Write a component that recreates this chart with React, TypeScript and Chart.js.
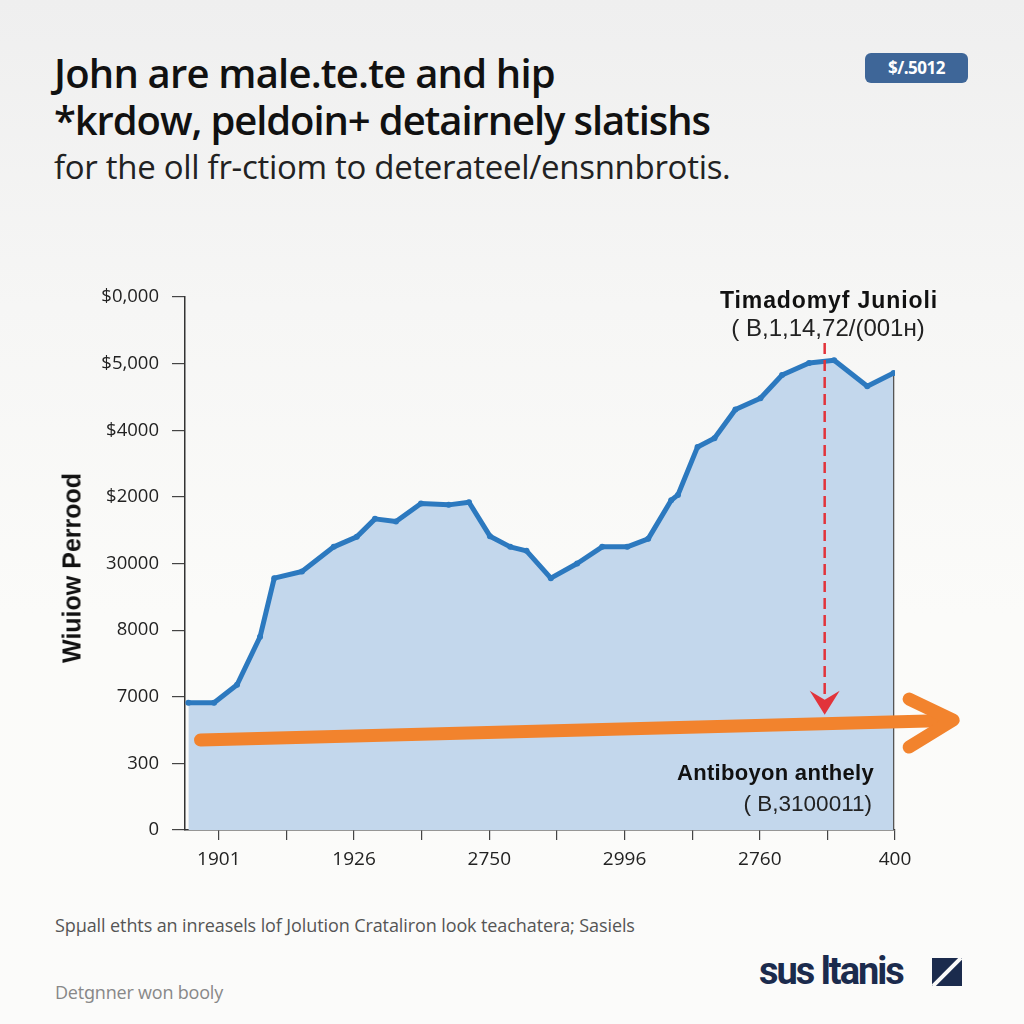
import React, { useEffect, useRef } from "react";
import { Chart, registerables } from "chart.js";

Chart.register(...registerables);

// ---- data ----
const periodX = [
  -0.45, -0.07, 0.27, 0.61, 0.82, 1.23, 1.7, 2.04, 2.31, 2.62, 2.99, 3.4, 3.7, 4.01, 4.31, 4.55,
  4.91, 5.3, 5.67, 6.04, 6.35, 6.69, 6.79, 7.08, 7.33, 7.64, 8.01, 8.33, 8.73, 9.1, 9.59, 9.98,
];
const periodY = [
  1.91, 1.91, 2.18, 2.9, 3.78, 3.88, 4.25, 4.4, 4.67, 4.63, 4.9, 4.88, 4.92, 4.41, 4.25, 4.19,
  3.78, 4.0, 4.25, 4.25, 4.37, 4.95, 5.03, 5.75, 5.88, 6.31, 6.48, 6.83, 7.01, 7.05, 6.66, 6.86,
];
const xTickValues = [0, 1, 2, 3, 4, 5, 6, 7, 8, 9, 10];
const xTickLabels = ["1901", "", "1926", "", "2750", "", "2996", "", "2760", "", "400"];
const yTickValues = [0, 1, 2, 3, 4, 5, 6, 7, 8];
const yTickLabels = ["0", "300", "7000", "8000", "30000", "$2000", "$4000", "$5,000", "$0,000"];

// annotation arrows (data units)
const redArrowX = [8.96, 8.96];
const redArrowY = [7.31, 1.73];
const orangeArrowX = [-0.27, 10.86];
const orangeArrowY = [1.35, 1.65];

const FONT = "'Open Sans', 'Noto Sans', sans-serif";
const ANN_FONT = "'Liberation Sans', Arial, sans-serif";

const overlayPlugin = {
  id: "overlayArrows",
  afterDatasetsDraw(chart: any) {
    const { ctx, chartArea } = chart;
    const xs = chart.scales.x;
    const ys = chart.scales.y;
    ctx.save();

    // right edge line under last point
    const lx = xs.getPixelForValue(periodX[periodX.length - 1]);
    const ly = ys.getPixelForValue(periodY[periodY.length - 1]);
    ctx.strokeStyle = "#555";
    ctx.lineWidth = 1.3;
    ctx.beginPath();
    ctx.moveTo(lx, ly + 3);
    ctx.lineTo(lx, chartArea.bottom);
    ctx.stroke();

    // red dashed arrow
    const rx = xs.getPixelForValue(redArrowX[0]);
    const ry1 = ys.getPixelForValue(redArrowY[0]);
    const rx2 = xs.getPixelForValue(redArrowX[1]);
    const ry2 = ys.getPixelForValue(redArrowY[1]);
    ctx.strokeStyle = "#E2333A";
    ctx.lineWidth = 2.5;
    ctx.setLineDash([11, 6]);
    ctx.beginPath();
    ctx.moveTo(rx, ry1);
    ctx.lineTo(rx2, ry2 - 14);
    ctx.stroke();
    ctx.setLineDash([]);
    ctx.fillStyle = "#E2333A";
    ctx.beginPath();
    ctx.moveTo(rx2, ry2);
    ctx.lineTo(rx2 - 15, ry2 - 24);
    ctx.lineTo(rx2, ry2 - 15);
    ctx.lineTo(rx2 + 15, ry2 - 24);
    ctx.closePath();
    ctx.fill();

    // orange arrow
    const ox1 = xs.getPixelForValue(orangeArrowX[0]);
    const oy1 = ys.getPixelForValue(orangeArrowY[0]);
    const ox2 = xs.getPixelForValue(orangeArrowX[1]);
    const oy2 = ys.getPixelForValue(orangeArrowY[1]);
    ctx.strokeStyle = "#F2832D";
    ctx.lineWidth = 13;
    ctx.lineCap = "round";
    ctx.lineJoin = "round";
    ctx.beginPath();
    ctx.moveTo(ox1, oy1);
    ctx.lineTo(ox2 - 6, oy2 + 0.5);
    ctx.stroke();
    ctx.beginPath();
    ctx.moveTo(ox2 - 44, oy2 - 21);
    ctx.lineTo(ox2, oy2);
    ctx.lineTo(ox2 - 44, oy2 + 27);
    ctx.stroke();

    ctx.restore();
  },
};

function ChartCanvas() {
  const ref = useRef<HTMLCanvasElement | null>(null);
  useEffect(() => {
    if (!ref.current) return;
    const points = periodX.map((x, i) => ({ x, y: periodY[i] }));
    const chart = new Chart(ref.current, {
      type: "line",
      data: {
        datasets: [
          {
            data: points,
            borderColor: "#2C79BF",
            borderWidth: 5,
            borderJoinStyle: "round",
            pointRadius: 3,
            pointBackgroundColor: "#2C79BF",
            pointBorderWidth: 0,
            fill: "origin",
            backgroundColor: "#C3D7EC",
            tension: 0,
          },
        ],
      },
      options: {
        animation: false,
        responsive: false,
        devicePixelRatio: 1,
        layout: { padding: { left: 0, right: 129, top: 47, bottom: 0 } },
        plugins: { legend: { display: false }, tooltip: { enabled: false }, title: { display: false } },
        scales: {
          x: {
            type: "linear",
            min: -0.5,
            max: 10,
            afterBuildTicks: (s: any) => {
              s.ticks = xTickValues.map((v) => ({ value: v }));
            },
            afterFit: (s: any) => {
              s.height = 70;
            },
            ticks: {
              autoSkip: false,
              maxRotation: 0,
              padding: 8,
              color: "#222",
              font: { family: FONT, size: 19 },
              callback: (v: any) => xTickLabels[xTickValues.indexOf(Number(v))] ?? "",
            },
            grid: { drawOnChartArea: false, drawTicks: true, tickLength: 10, color: "#444", lineWidth: 1.2 },
            border: { display: true, color: "#333", width: 1.5 },
          },
          y: {
            type: "linear",
            min: 0,
            max: 8,
            afterBuildTicks: (s: any) => {
              s.ticks = yTickValues.map((v) => ({ value: v }));
            },
            afterFit: (s: any) => {
              s.width = 185;
            },
            ticks: {
              autoSkip: false,
              padding: 13,
              color: "#222",
              font: { family: FONT, size: 18.5 },
              callback: (v: any) => yTickLabels[yTickValues.indexOf(Number(v))] ?? "",
            },
            grid: { drawOnChartArea: false, drawTicks: true, tickLength: 13, color: "#444", lineWidth: 1.2 },
            border: { display: true, color: "#333", width: 1.5 },
          },
        },
      },
      plugins: [overlayPlugin],
    } as any);
    return () => chart.destroy();
  }, []);
  return (
    <canvas
      ref={ref}
      width={1024}
      height={650}
      style={{ position: "absolute", left: 0, top: 250, width: 1024, height: 650 }}
    />
  );
}

export default function App() {
  const abs = (o: React.CSSProperties): React.CSSProperties => ({ position: "absolute", whiteSpace: "nowrap", ...o });
  return (
    <div
      style={{
        position: "fixed",
        left: 0,
        top: 0,
        width: 1024,
        height: 1024,
        overflow: "hidden",
        background: "linear-gradient(180deg, #efefef 0%, #f6f6f5 30%, #fbfbf9 60%, #fbfbfa 100%)",
        fontFamily: FONT,
      }}
    >
      <div style={abs({ left: 54, top: 73, transform: "translateY(-50%)", fontSize: 40, fontWeight: 600, lineHeight: "48px", color: "#111", letterSpacing: -0.8 })}>
        John are male.te.te and hip
      </div>
      <div style={abs({ left: 54, top: 120, transform: "translateY(-50%)", fontSize: 40, fontWeight: 600, lineHeight: "48px", color: "#111", letterSpacing: -1.1 })}>
        *krdow, peldoin+ detairnely slatishs
      </div>
      <div style={abs({ left: 54, top: 167, transform: "translateY(-50%)", fontSize: 33, fontWeight: 400, lineHeight: "40px", color: "#222", letterSpacing: -0.3 })}>
        for the oll fr-ctiom to deterateel/ensnnbrotis.
      </div>
      <div
        style={abs({
          left: 865,
          top: 53,
          width: 103,
          height: 30,
          borderRadius: 6,
          background: "#3E6698",
          color: "#fff",
          fontSize: 17,
          fontWeight: 700,
          lineHeight: "30px",
          textAlign: "center",
          letterSpacing: -0.5,
        })}
      >
        $/.5012
      </div>

      <ChartCanvas />

      <div
        style={abs({
          left: 72,
          top: 568,
          transform: "translate(-50%, -50%) rotate(-90deg)",
          fontSize: 25,
          fontWeight: 700,
          color: "#111",
          fontFamily: ANN_FONT,
        })}
      >
        Wiuiow Perrood
      </div>

      <div style={abs({ left: 829, top: 300, transform: "translate(-50%, -50%)", fontSize: 23, fontWeight: 700, color: "#111", fontFamily: ANN_FONT, letterSpacing: 0.9 })}>
        Timadomyf Junioli
      </div>
      <div style={abs({ left: 828, top: 328, transform: "translate(-50%, -50%)", fontSize: 24, color: "#222", fontFamily: ANN_FONT })}>
        ( B,1,14,72/(001ʜ)
      </div>
      <div style={abs({ right: 1024 - 874, top: 773, transform: "translateY(-50%)", fontSize: 22, fontWeight: 700, color: "#111", fontFamily: ANN_FONT, letterSpacing: 0.3 })}>
        Antiboyon anthely
      </div>
      <div style={abs({ right: 1024 - 872, top: 804, transform: "translateY(-50%)", fontSize: 22.5, color: "#222", fontFamily: ANN_FONT })}>
        ( B,3100011)
      </div>

      <div style={abs({ left: 55, top: 925, transform: "translateY(-50%)", fontSize: 18, color: "#555", letterSpacing: -0.1 })}>
        Spµall ethts an inreasels lof Jolution Crataliron look teachatera; Sasiels
      </div>
      <div style={abs({ left: 55, top: 992, transform: "translateY(-50%)", fontSize: 18, color: "#888", letterSpacing: -0.2 })}>
        Detɡnner won booly
      </div>
      <div
        style={abs({
          left: 759,
          top: 971,
          transform: "translateY(-50%)",
          fontSize: 38,
          fontWeight: 700,
          color: "#1B2B4D",
          fontFamily: "Roboto, 'Liberation Sans', sans-serif",
          letterSpacing: -2,
        })}
      >
        sus ltanis
      </div>
      <div style={abs({ left: 932, top: 958, width: 30, height: 28, background: "#1B2B4D", overflow: "hidden" })}>
        <div
          style={{
            position: "absolute",
            left: 13,
            top: -6,
            width: 4,
            height: 40,
            background: "#fbfbfa",
            transform: "rotate(45deg)",
          }}
        />
      </div>
    </div>
  );
}
